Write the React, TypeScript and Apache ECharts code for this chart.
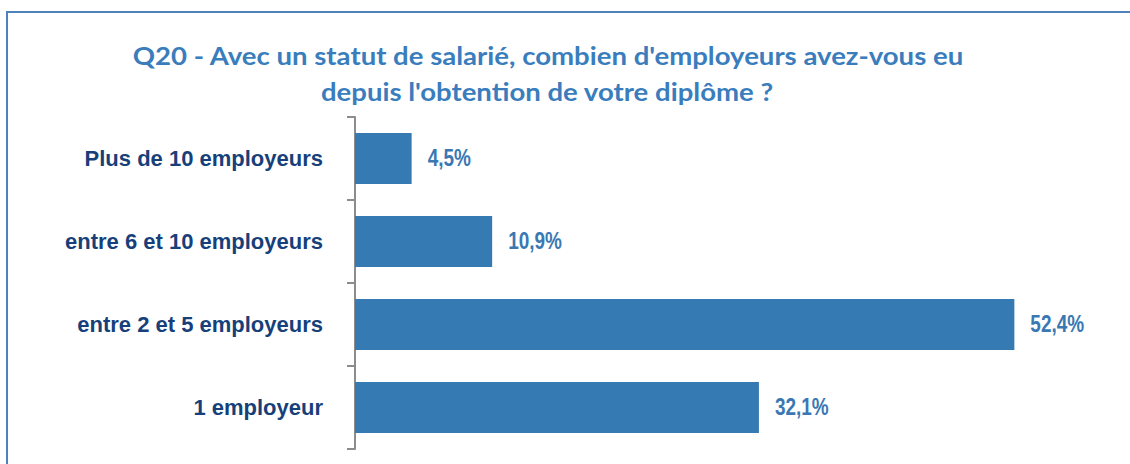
import React, { useEffect, useRef } from "react";
import * as echarts from "echarts";

const categories = [
  "Plus de 10 employeurs",
  "entre 6 et 10 employeurs",
  "entre 2 et 5 employeurs",
  "1 employeur",
];
const values = [4.5, 10.9, 52.4, 32.1];
const titleLines = [
  "Q20 - Avec un statut de salarié, combien d'employeurs avez-vous eu",
  "depuis l'obtention de votre diplôme ?",
];

const fmt = (v: number) => v.toFixed(1).replace(".", ",") + "%";

export default function App() {
  const ref = useRef<HTMLDivElement>(null);
  useEffect(() => {
    if (!ref.current) return;
    const chart = echarts.init(ref.current, null, { renderer: "svg" });
    const titleStyle = {
      fontFamily: "Lato, 'Open Sans', sans-serif",
      fontWeight: "bold",
      fontSize: 24,
      fill: "#3a7dbd",
      align: "center",
      verticalAlign: "middle",
    };
    chart.setOption({
      animation: false,
      backgroundColor: "#ffffff",
      graphic: [
        {
          type: "rect",
          shape: { x: 7, y: 12, width: 1140, height: 480 },
          style: { fill: "none", stroke: "#4f81bd", lineWidth: 2 },
          silent: true,
        },
        {
          type: "text",
          x: 548,
          y: 56,
          scaleX: 1.148,
          style: { ...titleStyle, text: titleLines[0] },
          silent: true,
        },
        {
          type: "text",
          x: 547,
          y: 92,
          scaleX: 1.148,
          style: { ...titleStyle, text: titleLines[1] },
          silent: true,
        },
      ],
      grid: { left: 355, top: 117, width: 755, height: 332 },
      xAxis: {
        type: "value",
        min: 0,
        max: 60,
        show: false,
      },
      yAxis: {
        type: "category",
        data: categories,
        inverse: true,
        axisLine: { show: true, lineStyle: { color: "#8c8c8c", width: 2 } },
        axisTick: { show: true, length: 8, lineStyle: { color: "#8c8c8c", width: 2 } },
        axisLabel: {
          margin: 32,
          fontFamily: "'Liberation Sans', Arial, sans-serif",
          fontWeight: "bold",
          fontSize: 22,
          color: "#173f7a",
        },
      },
      series: [
        {
          type: "bar",
          data: values,
          barWidth: 51,
          itemStyle: { color: "#367ab4" },
        },
        {
          type: "custom",
          data: values.map((v, i) => [v, i]),
          encode: { x: 0, y: 1 },
          silent: true,
          renderItem: (_params: any, api: any) => {
            const v = api.value(0);
            const pt = api.coord([v, api.value(1)]);
            return {
              type: "text",
              x: pt[0] + 16,
              y: pt[1] - 1,
              scaleX: 0.79,
              style: {
                text: fmt(v),
                fontFamily: "'Liberation Sans', Arial, sans-serif",
                fontWeight: "bold",
                fontSize: 24,
                fill: "#3a78b3",
                align: "left",
                verticalAlign: "middle",
              },
            };
          },
        },
      ],
    });
    return () => chart.dispose();
  }, []);
  return (
    <div
      ref={ref}
      style={{ position: "fixed", left: 0, top: 0, width: 1130, height: 464 }}
    />
  );
}
